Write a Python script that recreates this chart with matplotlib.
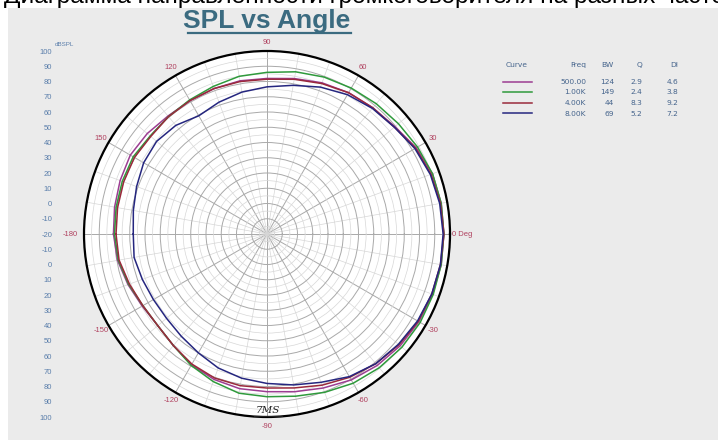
import numpy as np
import matplotlib
matplotlib.use("Agg")
import matplotlib.pyplot as plt
from matplotlib.patches import Rectangle
from matplotlib.lines import Line2D

# angles in degrees, SPL values in dB
angles = list(range(-180, 181, 10))
spl_500 = [80.7, 79.5, 77, 74.5, 73.5, 75.5, 79, 81.5, 83, 83.4, 85, 87.5, 90.5, 92.5, 94, 95, 95.5, 96,
           96, 96, 95.5, 93, 89.5, 88, 87, 85.5, 83.5, 82, 82, 81.5, 81, 81, 82.5, 83.5, 82.5, 81.5, 80.7]
spl_1k = [80, 79, 76.5, 74, 73.5, 75.5, 79.5, 83, 86, 86.7, 88, 90.5, 93, 94.5, 95.5, 96, 96, 96,
          96, 96, 95.5, 94, 92.5, 91.5, 90.5, 89.5, 88, 86, 85, 83, 81.5, 80.5, 80, 81.3, 81, 80.5, 80]
spl_4k = [79, 78.5, 76, 74, 73.5, 75.5, 78.5, 80.5, 81, 81, 82.5, 85.5, 88.5, 91, 93, 94.5, 95, 95.5,
          96, 95.5, 94.5, 92.5, 89, 88, 87, 85, 83, 81.5, 81.5, 81.5, 81, 80.5, 79.5, 80.4, 80, 79.5, 79]
spl_8k = [67.7, 68.5, 67, 66, 66, 67.5, 70, 73.5, 76, 78, 80.5, 83.5, 88, 91, 92.5, 94, 95, 95.5,
          95.5, 95, 94, 92, 89, 87.5, 85.5, 82.5, 79, 76.5, 74.5, 72, 69.5, 73, 74.5, 73.4, 71, 69, 67.7]

freq_labels = ["500.00", "1.00K", "4.00K", "8.00K"]
bw_values = ["124", "149", "44", "69"]
q_values = ["2.9", "2.4", "8.3", "5.2"]
di_values = ["4.6", "3.8", "9.2", "7.2"]
curve_colors = ["#9c3d92", "#2f9a3c", "#9a2a3c", "#25267f"]

db_ticks = list(range(-20, 101, 10))
angle_ticks = [0, 30, 60, 90, 120, 150, 180, -150, -120, -90, -60, -30]
angle_texts = ["0 Deg", "30", "60", "90", "120", "150", "-180", "-150", "-120", "-90", "-60", "-30"]

W, H = 718, 440
cx, cy, R = 267, 234, 183
r_min, r_max = -20, 100
px_per_db = R / (r_max - r_min)


def fx(x):
    return x / W


def fy(y):
    return 1 - y / H


fig = plt.figure(figsize=(W / 100, H / 100), dpi=100)
fig.patch.set_facecolor("white")
fig.add_artist(Rectangle((fx(8), 0), 1, fy(8), transform=fig.transFigure,
                         facecolor="#ebebeb", edgecolor="none", zorder=0))

# caption cut off at the top of the screenshot
fig.text(fx(4), fy(3.5), "Диаграмма направленности громкоговорителя на разных частотах",
         fontsize=17.6, family="Liberation Sans", va="baseline", ha="left", color="black", zorder=5)

rect = [fx(cx - R), fy(cy + R), 2 * R / W, 2 * R / H]

# left dB scale, mirrored about the centre
ax2 = fig.add_axes(rect)
ax2.set_ylim(-(r_max - r_min), r_max - r_min)
ax2.set_xlim(0, 1)
pos = [v - r_min for v in db_ticks] + [-(v - r_min) for v in db_ticks if v != r_min]
lab = [str(v) for v in db_ticks] + [str(v) for v in db_ticks if v != r_min]
ax2.set_yticks(pos)
ax2.set_yticklabels(lab, fontsize=5.5, color="#5a7eab", family="Liberation Sans")
ax2.set_xticks([])
ax2.tick_params(axis="y", length=0, pad=23)
for s in ax2.spines.values():
    s.set_visible(False)
ax2.patch.set_visible(False)
fig.text(fx(55), fy(44), "dBSPL", fontsize=4.5, color="#5a7eab", family="Liberation Sans",
         ha="left", va="center")

ax = fig.add_axes(rect, projection="polar")
ax.set_facecolor("white")
ax.set_ylim(r_min, r_max)
ax.set_xticks(np.deg2rad(np.arange(0, 360, 30)))
ax.set_xticks(np.deg2rad(np.arange(0, 360, 10)), minor=True)
ax.set_yticks(np.arange(-10, 101, 10))
ax.set_yticks(np.arange(-15, 100, 10), minor=True)
ax.set_xticklabels([])
ax.set_yticklabels([])
ax.tick_params(which="both", length=0)
ax.grid(which="major", color="#a9a9a9", lw=0.7)
ax.grid(which="minor", color="#d7d7d7", lw=0.5)
ax.spines["polar"].set_linewidth(1.6)
ax.spines["polar"].set_color("black")

th = np.deg2rad(angles)
for vals, c in zip([spl_500, spl_1k, spl_4k, spl_8k], curve_colors):
    ax.plot(th, vals, color=c, lw=1.1)

# angle labels around the ring
r_lab = r_min + 192 / px_per_db
for a, t in zip(angle_ticks, angle_texts):
    ha = "center"
    r = r_lab
    if t == "0 Deg":
        ha, r = "left", r_min + 185 / px_per_db
    elif t == "-180":
        ha, r = "right", r_min + 189 / px_per_db
    ax.text(np.deg2rad(a), r, t, ha=ha, va="center", fontsize=5.5, color="#b0415f",
            family="Liberation Sans", clip_on=False)

# title
fig.text(fx(cx), fy(21), "SPL vs Angle", fontsize=19, fontweight="bold", color="#3b6b80",
         family="Liberation Sans", ha="center", va="center")
fig.add_artist(Line2D([fx(188), fx(351)], [fy(33.5), fy(33.5)], color="#3b6b80", lw=1.6,
                      transform=fig.transFigure))

# legend table
hdr_y = 65
row_y = [82, 92.5, 103, 113.5]
tc = "#45648c"
fs = 5.4
fig.text(fx(517), fy(hdr_y), "Curve", ha="center", va="center", fontsize=fs, color=tc)
for x, t in zip([586, 614, 642, 678], ["Freq", "BW", "Q", "DI"]):
    fig.text(fx(x), fy(hdr_y), t, ha="right", va="center", fontsize=fs, color=tc)
for i, y in enumerate(row_y):
    fig.add_artist(Line2D([fx(503), fx(532)], [fy(y), fy(y)], color=curve_colors[i], lw=1.1,
                          transform=fig.transFigure))
    for x, t in zip([586, 614, 642, 678], [freq_labels[i], bw_values[i], q_values[i], di_values[i]]):
        fig.text(fx(x), fy(y), t, ha="right", va="center", fontsize=fs, color=tc)

# handwritten note near the bottom
fig.text(fx(268), fy(410), "7MS", ha="center", va="center", fontsize=7.5, style="italic",
         family="DejaVu Serif", color="#202020")
fig.add_artist(Line2D([fx(254), fx(282)], [fy(416), fy(416)], color="#202020", lw=0.8,
                      transform=fig.transFigure))

fig.savefig("out.png", dpi=100, facecolor=fig.get_facecolor())
